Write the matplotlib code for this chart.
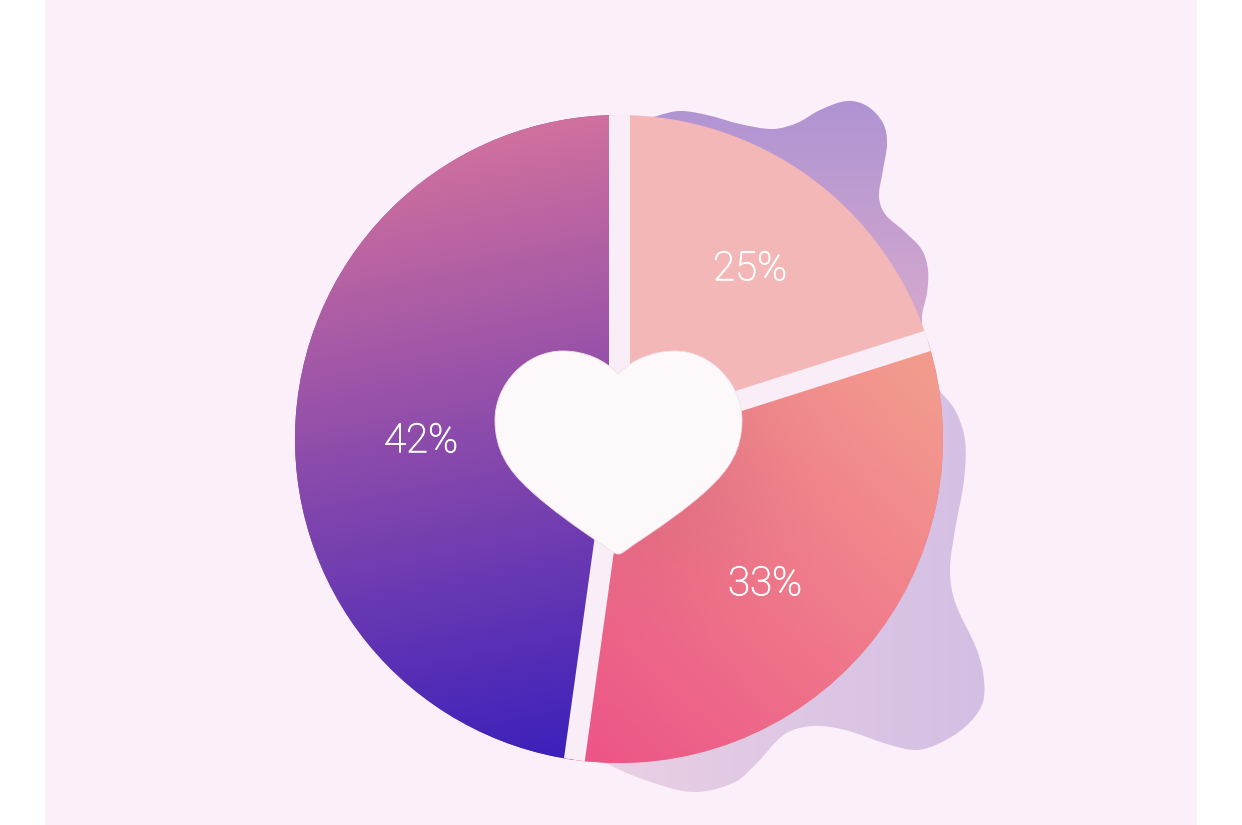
import numpy as np
import matplotlib
matplotlib.use("Agg")
import matplotlib.pyplot as plt
import matplotlib.patheffects as pe
from matplotlib.patches import PathPatch, Rectangle, Circle
from matplotlib.path import Path
from matplotlib.colors import to_rgb

# Data: printed labels and the angular shares as drawn in the picture
labels = ["25%", "33%", "42%"]
drawn_shares = [20.1, 32.1, 47.8]

W, H = 1242, 825
BG = "#FBF0F9"
GAP = "#F9EEF8"
cx, cy, R = 619, 439, 324

fig = plt.figure(figsize=(W / 100, H / 100), dpi=100, facecolor="white")
ax = fig.add_axes([0, 0, 1, 1])
ax.add_patch(Rectangle((45, 0), 1152, H, fc=BG, ec="none", zorder=0))

X, Y = np.meshgrid(np.arange(W) + .5, np.arange(H) + .5)


def ramp(t, c0, c1):
    t = np.clip(t, 0, 1)[..., None]
    return (1 - t) * np.array(to_rgb(c0)) + t * np.array(to_rgb(c1))


def show(img, clip, z):
    im = ax.imshow(img, extent=(0, W, H, 0), aspect="auto", zorder=z, interpolation="bilinear")
    im.set_clip_path(clip)
    return im


# Background blob outline (smoothed through traced points)
blob = np.array([
    (657, 116), (680, 111), (707, 115), (740, 124), (773, 129), (797, 123), (820, 110), (847, 101),
    (867, 106), (883, 123), (887, 143), (883, 170), (879, 197), (885, 214), (905, 232), (922, 250),
    (928, 270), (927, 293), (922, 317), (925, 350), (936, 385), (955, 410), (965, 440), (964, 480),
    (955, 530), (950, 570), (955, 602), (977, 650), (984, 680), (982, 705), (965, 727),
    (940, 743), (917, 750), (890, 745), (845, 730), (813, 726), (785, 734),
    (757, 763), (735, 782), (697, 792), (660, 785), (610, 765), (585, 745),
    (600, 500), (625, 128),
], float)
n = len(blob)
tang = np.roll(blob, -1, axis=0) - np.roll(blob, 1, axis=0)
tang /= np.linalg.norm(tang, axis=1, keepdims=True)
verts, codes = [blob[0]], [Path.MOVETO]
for i in range(n):
    j = (i + 1) % n
    seg = np.linalg.norm(blob[j] - blob[i]) / 3
    verts += [blob[i] + tang[i] * seg, blob[j] - tang[j] * seg, blob[j]]
    codes += [Path.CURVE4] * 3
blob_patch = PathPatch(Path(verts, codes), fc="none", ec="none", transform=ax.transData)
ax.add_patch(blob_patch)
upper = ramp((Y - 100) / 225, "#AF93D3", "#D5A9CD")
lower = ramp((X - 620) / 365, "#E8CFE3", "#D4BFE5")
show(np.where((Y < 345)[..., None], upper, lower), blob_patch, 1)

# Pie: y axis runs downward, so counterclock here reads clockwise on screen
wedges, _ = ax.pie(drawn_shares, startangle=-90, counterclock=True, center=(cx, cy), radius=R,
                   colors=["#F4B7B7", "#EE7A8A", "#8548AC"], wedgeprops=dict(linewidth=0))
ax.set_xlim(0, W)
ax.set_ylim(H, 0)
ax.set_aspect("auto")
for w in wedges:
    w.set_zorder(2)

# Wedge gradients
dist = np.hypot(X - 655, Y - 470)
shade = (1 - 0.06 * np.exp(-(dist / 110) ** 2))[..., None]
t2 = ((X - 590) * 0.68 + (760 - Y) * 0.73) / (350 * 0.68 + 380 * 0.73)
show(ramp(t2, "#EC5587", "#F39C8E") * shade, wedges[1], 3)
t3 = ((X * 0.2 + Y) - 235) / 637
show(ramp(t3, "#D0709E", "#3B20BB"), wedges[2], 3)
ax.set_xlim(0, W)
ax.set_ylim(H, 0)

# Gaps along each wedge boundary
circle = Circle((cx, cy), R, transform=ax.transData, fc="none", ec="none")
ax.add_patch(circle)
edges = np.cumsum([0] + drawn_shares[:-1]) / sum(drawn_shares) * 2 * np.pi
for a in edges:
    ln, = ax.plot([cx, cx + (R + 5) * np.sin(a)], [cy, cy - (R + 5) * np.cos(a)], color=GAP,
                  lw=21 * .72, solid_capstyle="butt", zorder=4)
    ln.set_clip_path(circle)

# Heart
heart_v = [(618, 374),
           (605, 360), (585, 351), (563, 351),
           (525, 351), (495, 385), (495, 420),
           (495, 450), (508, 470), (530, 490),
           (548, 507), (580, 530), (603, 545),
           (610, 550), (614, 554), (618, 554),
           (622, 554), (626, 550), (633, 545),
           (656, 530), (689, 507), (707, 490),
           (729, 470), (742, 450), (742, 420),
           (742, 385), (712, 351), (675, 351),
           (652, 351), (632, 360), (618, 374)]
heart_c = [Path.MOVETO] + [Path.CURVE4] * 30
ax.add_patch(PathPatch(Path(heart_v, heart_c), fc="#FDF9FB", ec="#EFE0EC", lw=0.6, zorder=5))

# Percentage labels
label_xy = [(750, 269), (765, 584), (421, 441)]
for s, (x, y) in zip(labels, label_xy):
    t = ax.text(x, y, s, color="white", fontsize=29, family="Roboto", fontweight="light",
                ha="center", va="center", zorder=6)
    t.set_path_effects([pe.withStroke(linewidth=0.6, foreground="white")])

ax.set_xlim(0, W)
ax.set_ylim(H, 0)
ax.axis("off")
fig.savefig("out.png", dpi=100, facecolor="white")
